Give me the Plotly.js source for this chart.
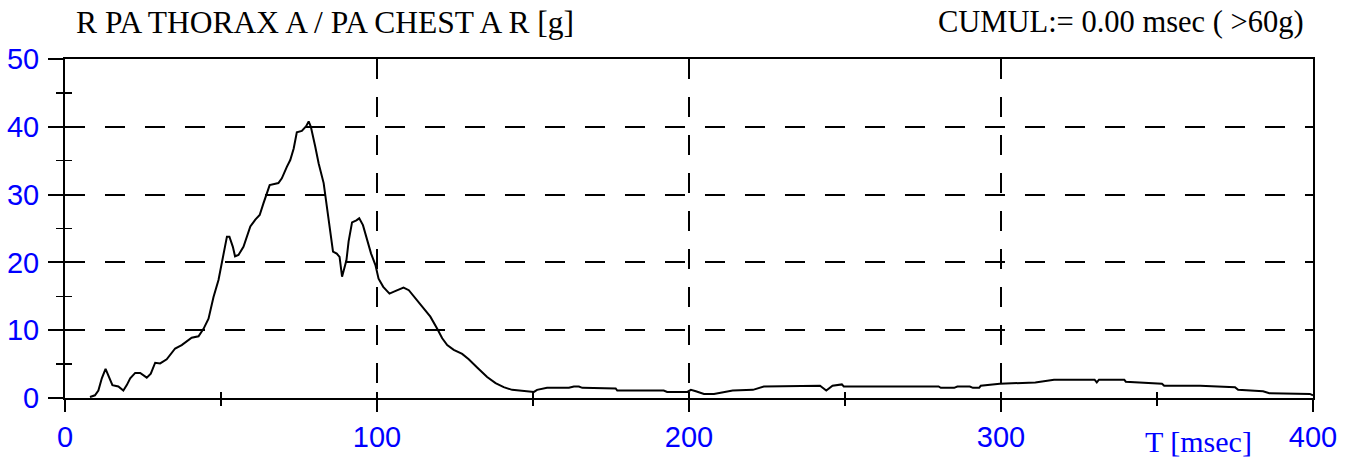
<!DOCTYPE html>
<html>
<head>
<meta charset="utf-8">
<script src="https://cdn.plot.ly/plotly-3.0.1.min.js"></script>
<style>html,body{margin:0;padding:0;background:#fff;}#chart{width:1360px;height:460px;}</style>
</head>
<body>
<div id="chart"></div>
<script>
// Time in msec
const timeMs = [
  8, 9.6, 10.7, 11.8, 13.0, 13.9, 15.2, 17.1, 18.7, 19.8,
  20.9, 22.5, 24.1, 26.2, 27.5, 28.9, 30.5, 32.6, 35.3, 37.4,
  40.6, 42.8, 44.4, 46.0, 47.6, 49.2, 50.3, 51.0, 51.9, 52.7,
  53.8, 54.5, 55.6, 57.2, 58.3, 59.4, 61.0, 62.4, 63.6, 65.6,
  68.4, 69.5, 71.1, 72.2, 73.3, 74.3, 75.9, 77.3, 78.1, 78.8,
  80.2, 81.3, 82.9, 83.9, 85.0, 85.9, 87.1, 88.0, 88.8, 89.3,
  90.2, 90.9, 92.0, 93.4, 94.3, 95.5, 96.8, 98.1, 99.5, 100.5,
  102.0, 104.0, 106.0, 108.5, 110.2, 112.3, 114.4, 117.1, 119.3, 120.9,
  122.5, 124.6, 127.3, 129.4, 132.1, 135.3, 138.0, 140.6, 143.3, 147.6,
  150.3, 151.3, 154.5, 161.5, 163.1, 164.7, 165.8, 176.5, 177.0, 191.9,
  193.0, 199.5, 200.6, 202.2, 204.8, 208.0, 211.0, 214.0, 220.5, 224.0,
  242.0, 244.0, 246.0, 249.0, 249.6, 280.0, 280.7, 285.0, 286.0, 290.0,
  291.0, 293.0, 293.5, 299.6, 311.0, 317.0, 330.0, 330.7, 331.4, 339.5,
  340.0, 344.9, 351.6, 352.3, 363.8, 375.0, 376.0, 384.0, 386.0, 399.0,
  400.0
];
// Acceleration in g
const accelG = [
  0.15, 0.4, 1.1, 2.9, 4.3, 3.3, 1.9, 1.7, 1.1, 1.9,
  2.9, 3.7, 3.7, 3.0, 3.6, 5.2, 5.1, 5.7, 7.3, 7.8,
  8.9, 9.1, 10.2, 11.7, 14.9, 17.4, 19.9, 21.8, 23.8, 23.8,
  22.3, 20.9, 21.1, 22.3, 23.8, 25.3, 26.3, 27.0, 28.7, 31.4,
  31.7, 32.4, 34.1, 35.1, 36.8, 39.2, 39.4, 40.1, 40.8, 40.0,
  37.1, 34.6, 31.7, 28.2, 24.3, 21.6, 21.3, 20.8, 17.9, 18.9,
  20.3, 23.1, 25.9, 26.2, 26.5, 25.5, 23.3, 21.3, 19.6, 17.6,
  16.4, 15.4, 15.8, 16.3, 15.9, 14.7, 13.5, 12.0, 10.2, 8.8,
  7.8, 7.1, 6.5, 5.7, 4.5, 3.1, 2.2, 1.6, 1.2, 1.0,
  0.9, 1.2, 1.5, 1.5, 1.7, 1.7, 1.5, 1.4, 1.1, 1.1,
  0.9, 0.9, 1.2, 1.0, 0.6, 0.6, 0.8, 1.1, 1.2, 1.7,
  1.8, 1.1, 1.8, 2.0, 1.7, 1.7, 1.5, 1.5, 1.7, 1.7,
  1.5, 1.5, 1.8, 2.1, 2.3, 2.7, 2.7, 2.3, 2.7, 2.7,
  2.4, 2.3, 2.1, 1.8, 1.8, 1.6, 1.2, 1.0, 0.7, 0.6,
  0.4
];
const xTickVals = [0, 100, 200, 300, 400];
const yTickVals = [0, 10, 20, 30, 40, 50];
const titleText = "R PA THORAX A / PA CHEST A R [g]";
const cumulText = "CUMUL:= 0.00 msec ( >60g)";
const xAxisLabel = "T [msec]";

const blue = "#0000ff";
const tickFont = {family: "Liberation Sans, Arial, sans-serif", size: 29, color: blue};
const serif = "Liberation Serif, Times New Roman, serif";

const traces = [{
  x: timeMs, y: accelG, type: "scatter", mode: "lines",
  line: {color: "#000", width: 2}, hoverinfo: "skip", showlegend: false
}];

const layout = {
  width: 1360, height: 460,
  margin: {l: 65, r: 47, t: 59, b: 62},
  paper_bgcolor: "#fff", plot_bgcolor: "#fff",
  showlegend: false,
  xaxis: {
    range: [0, 400], tickvals: xTickVals, ticktext: xTickVals.map(String),
    ticks: "outside", ticklen: 12, tickwidth: 2, tickcolor: "#000",
    minor: {dtick: 50, tick0: 0, ticks: "outside", ticklen: 6, tickwidth: 1.5, tickcolor: "#000", showgrid: false},
    showline: true, linecolor: "#000", linewidth: 2, mirror: true,
    showgrid: true, gridcolor: "#000", gridwidth: 2, griddash: "20px,18px",
    zeroline: false, tickfont: tickFont, ticklabelstandoff: 0, fixedrange: true
  },
  xaxis2: {
    overlaying: "x", matches: "x", anchor: "y", range: [0, 400],
    tickmode: "linear", tick0: 0, dtick: 50, ticks: "inside", ticklen: 6, tickwidth: 1.5, tickcolor: "#000",
    showticklabels: false, showgrid: false, showline: false, zeroline: false, fixedrange: true
  },
  yaxis: {
    range: [0, 50], tickvals: yTickVals, ticktext: yTickVals.map(String),
    ticks: "outside", ticklen: 15, tickwidth: 2, tickcolor: "#000",
    minor: {dtick: 5, tick0: 0, ticks: "outside", ticklen: 7, tickwidth: 1.5, tickcolor: "#000", showgrid: false},
    showline: true, linecolor: "#000", linewidth: 2, mirror: true,
    showgrid: true, gridcolor: "#000", gridwidth: 2, griddash: "20px,20px",
    zeroline: false, tickfont: tickFont, ticklabelstandoff: 3, fixedrange: true
  },
  yaxis2: {
    overlaying: "y", matches: "y", anchor: "x", range: [0, 50],
    tickmode: "linear", tick0: 0, dtick: 5, ticks: "inside", ticklen: 7, tickwidth: 1.5, tickcolor: "#000",
    showticklabels: false, showgrid: false, showline: false, zeroline: false, fixedrange: true
  },
  annotations: [
    {text: titleText, xref: "paper", yref: "paper", x: (74 - 65) / 1248, y: 1.108,
     xanchor: "left", yanchor: "middle", showarrow: false,
     font: {family: serif, size: 31.5, color: "#000"}},
    {text: cumulText, xref: "paper", yref: "paper", x: (1306 - 65) / 1248, y: 1.108,
     xanchor: "right", yanchor: "middle", showarrow: false,
     font: {family: serif, size: 30.5, color: "#000"}},
    {text: xAxisLabel, xref: "paper", yref: "paper", x: (1198 - 65) / 1248, y: -0.128,
     xanchor: "center", yanchor: "middle", showarrow: false,
     font: {family: serif, size: 30, color: blue}}
  ]
};

// invisible helper traces that activate the overlay tick axes
traces.push({x: [0], y: [0], xaxis: "x2", yaxis: "y", mode: "markers", marker: {opacity: 0}, hoverinfo: "skip", showlegend: false});
traces.push({x: [0], y: [0], xaxis: "x", yaxis: "y2", mode: "markers", marker: {opacity: 0}, hoverinfo: "skip", showlegend: false});

Plotly.newPlot("chart", traces, layout, {staticPlot: true, displayModeBar: false});
</script>
</body>
</html>
